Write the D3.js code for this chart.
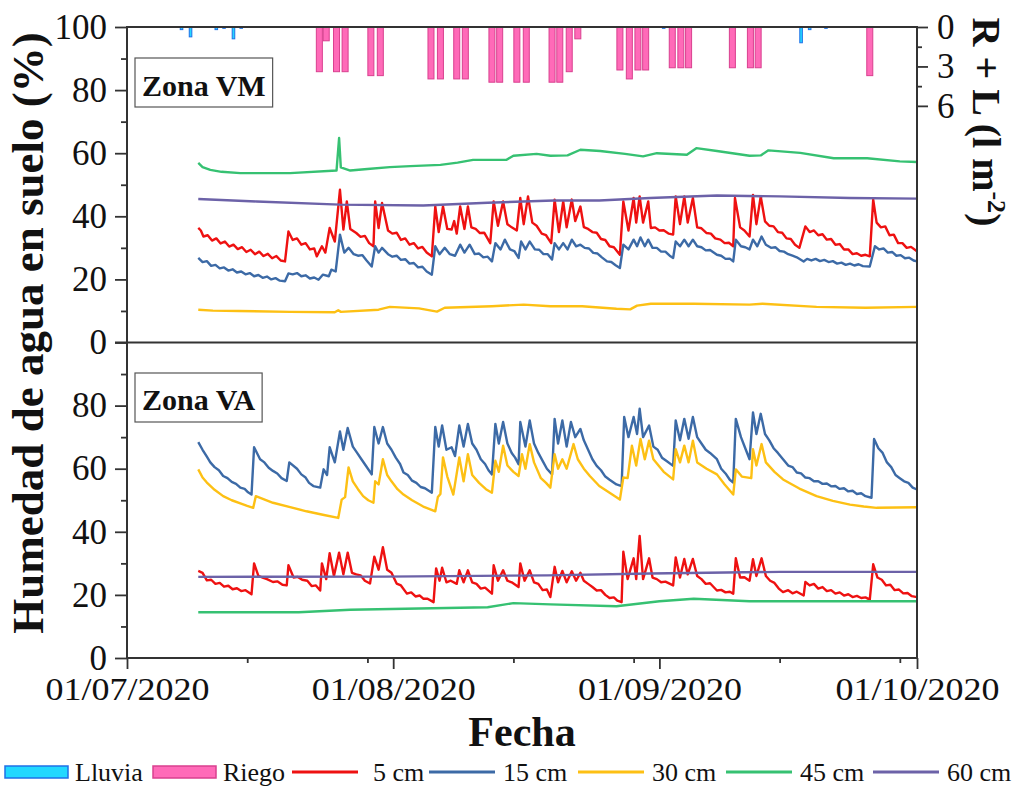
<!DOCTYPE html>
<html>
<head>
<meta charset="utf-8">
<script src="https://cdnjs.cloudflare.com/ajax/libs/d3/7.8.5/d3.min.js"></script>
<style>
  body { margin: 0; background: #fff; }
  svg text { font-family: "Liberation Serif", "Times New Roman", serif; fill: #111; }
</style>
</head>
<body>
<div id="chart"></div>
<script>
// Datos: dias desde 01/07/2020 y valores
var fechasEje = ["2020-07-01", "2020-08-01", "2020-09-01", "2020-10-01"];
var fechasMenores = ["2020-07-15", "2020-07-29", "2020-08-15", "2020-08-29", "2020-09-15", "2020-09-29"];
var ticksHumedadVM = [0, 20, 40, 60, 80, 100];
var ticksHumedadVA = [0, 20, 40, 60, 80];
var ticksMenores = [10, 30, 50, 70, 90];
var ticksRL = [0, 3, 6];
var ticksRLmenores = [1.5, 4.5];

// Riego y lluvia (l m-2)
var riego = [[22.4,3.4],[23.2,1.05],[24.4,3.4],[25.4,3.4],[28.4,3.7],[29.5,3.7],[35.4,3.95],[36.5,3.95],
  [38.4,3.95],[39.4,3.95],[42.5,4.2],[43.4,4.2],[45.4,4.2],[46.5,4.2],[49.5,4.2],[50.4,4.2],[51.5,3.4],
  [52.5,0.9],[57.4,3.27],[58.5,3.95],[59.5,3.27],[60.4,3.27],[63.5,3.1],[64.5,3.1],[65.4,3.1],[70.5,3.1],
  [72.6,3.1],[73.5,3.1],[86.5,3.7]];
var lluvia = [[6.35,0.2],[7.4,0.75],[10.4,0.2],[11.3,0.1],[12.4,0.9],[13.3,0.1],[62.5,0.1],[78.5,1.2],[79.5,0.2],[81.4,0.1]];

// Zona VM
var vm5 = [[8.3,36.3],[8.6,35.5],[8.9,33.6],[9.4,34],[9.9,32.3],[10.4,33],[10.9,31.4],[11.4,32],[11.9,30.4],[12.4,31],
  [12.9,29.6],[13.4,30.2],[13.9,28.7],[14.4,29.4],[14.9,28],[15.4,28.8],[15.9,27.4],[16.4,28.1],[16.9,26.7],[17.4,27.4],
  [17.9,26],[18.4,25.7],[18.8,35.2],[19.3,32.5],[19.8,33],[20.3,31],[20.8,31.5],[21.3,29.5],[21.8,29.8],[22.1,27.3],
  [22.7,30.5],[23.1,28.5],[23.6,36.3],[24.2,32],[24.8,48.4],[25.2,35.8],
  [25.6,44.7],[26,36],[26.7,34.7],[27.2,33.5],[27.7,33.8],[28.2,31.5],[28.7,30.5],[28.9,44.7],[29.3,36.3],[29.7,44.2],
  [30.4,35.5],[30.9,34.5],[31.4,34.8],[31.9,32.5],[32.4,33],[32.9,31],[33.4,31.5],[33.9,29.8],[34.4,30.3],[34.9,28.5],
  [35.5,27.3],[35.9,43.1],[36.3,35],[36.8,43.1],[37.3,36],[37.8,35.8],[38.1,38.5],[38.4,34.5],[38.8,43.1],
  [39.3,36],[39.7,43.1],[40.1,36.5],[40.6,36],[41.1,34.7],[41.6,34.8],[42.3,31.5],[42.7,44.7],[43.2,37],[43.8,44.7],
  [44.3,37.5],[44.8,36.5],[45.4,35.5],[45.8,45.8],[46.2,37.5],[46.7,46.3],[47.2,38],[47.7,37],[48.3,34.5],[48.8,34],
  [49.4,31.5],[49.8,45.3],[50.3,35],[50.8,44.7],[51.2,36.5],
  [51.8,45.3],[52.2,38.5],[52.8,43.1],[53.2,36.6],[53.7,36],[54.2,35],[54.7,34.8],[55.2,32.8],[55.7,32.5],[56.2,30.5],
  [56.7,30.2],[57.4,27.8],[57.8,44.7],[58.4,35.5],[59,45.8],
  [59.3,38],[59.7,46.3],[60.1,38],[60.7,44.7],[61,36.3],[61.5,36.5],[62,35.5],[62.5,35.6],[63.1,34.5],[63.6,34.2],
  [63.9,46.3],[64.4,37.5],[64.9,46.3],[65.3,38],[65.9,45.8],[66.4,36.5],[66.9,36.2],[67.5,34.7],[68,34.5],[68.5,33],
  [69.1,32.6],[69.6,31.5],[70.1,31.6],[70.6,30.5],[70.8,45.8],[71.4,36.5],[71.9,35.5],[72.5,33.6],[72.9,46.8],
  [73.3,37.5],[73.8,46.3],[74.3,38.4],[74.8,37],[75.3,36.8],[75.8,35],[76.3,34.8],[76.8,33],[77.3,32.8],[77.8,31],
  [78.3,30],[79,36.8],[79.5,35],[80,35.5],[80.5,34],[81,34.3],[81.5,32.6],[82,32.8],[82.5,31],[83,31.2],[83.5,29.5],
  [84,29.5],[84.5,28],[85,28.3],[85.5,27.5],[86,27.8],[86.5,27.3],[86.9,45.3],[87.3,38],[87.8,36.5],[88.3,36.8],
  [88.8,34],[89.3,34.2],[89.8,31.5],[90.3,31.5],[90.8,30],[91.3,30.3],[92,28.9]];
var vm15 = [[8.3,26.8],[8.8,25.5],[9.3,25.8],[9.8,24.3],[10.3,24.6],[10.8,23.5],[11.3,23.8],[11.8,22.8],[12.3,23.2],
  [12.8,22.2],[13.3,22.5],[13.8,21.6],[14.3,22],[14.8,21],[15.3,21.4],[15.8,20.5],[16.3,20.9],[16.8,20],[17.3,20.4],
  [17.8,19.6],[18.4,19.4],[18.8,21.9],[19.3,21.6],[19.8,22],[20.3,21],[20.8,21.3],[21.3,20.3],[21.8,20.6],[22.3,19.9],
  [22.8,21.5],[23.5,21],[23.8,23.1],[24.3,22.5],[24.8,34.2],[25.3,28.5],[25.8,30],[26.4,28],[26.9,27.5],[27.4,27.7],
  [27.9,26],[28.5,24.1],[28.9,30.5],[29.3,28.5],[29.7,30],[30.4,28],[30.9,27.2],[31.4,27.5],[31.9,26.2],[32.4,26.4],
  [32.9,25],[33.4,25.2],[33.9,23.8],[34.4,24],[34.9,22.5],[35.5,21.5],[35.9,30.5],[36.4,28],[37,30],[37.6,28],[38.2,27.5],
  [38.8,31],[39.3,28.5],[39.9,31],[40.5,28],[41,28.2],[41.5,27],[42,27.2],
  [42.5,25.7],[42.9,31.5],[43.5,29.5],[44,32.6],[44.6,29.5],[45.1,29],[45.6,26.8],[45.9,32],[46.4,29.5],[46.9,32],
  [47.5,29.5],[48,29.4],[48.5,28],[49,28],[49.5,26.3],[49.8,31.5],[50.3,29.5],[50.8,31.5],[51.3,29.5],[51.8,32.6],
  [52.3,30.5],[52.8,31],[53.3,30],[53.8,29.8],[54.3,28.4],[54.8,28.2],[55.3,27],[55.9,25.7],[56.4,25.5],[56.9,24.5],
  [57.4,23.6],[57.8,31],[58.4,29.5],[59,32.6],[59.4,30.5],[59.8,33.3],[60.3,30.5],[60.7,32.6],[61.2,30],[61.7,30],
  [62.2,28.8],[62.7,28.8],[63.2,27.5],[63.6,26.8],[63.9,32],[64.4,30.5],[64.9,32.6],[65.4,30.5],[65.9,32.6],
  [66.4,30.5],[66.9,30.2],[67.4,29.2],[67.9,29.3],[68.7,27.8],[69.2,27.5],[69.7,26.5],[70.2,26.6],[70.6,25.7],
  [70.9,32.6],[71.5,30.5],[72,30.2],[72.5,29.5],[72.9,32.6],[73.4,30.5],[73.9,33.6],[74.4,31],[75,30],[75.5,30.2],
  [76,29],[76.5,28.8],[77,28],[77.5,27.5],[78,27],[78.8,25.7],[79.2,26.5],[79.7,26],[80.2,26.5],[80.7,25.8],[81.2,26.2],
  [81.7,25.5],[82.2,25.8],[82.7,25],[83.2,25.3],[83.7,24.6],[84.2,25],[84.7,24.4],[85.2,24.8],[85.7,24.2],[86.5,24.1],
  [87.1,30.5],[87.6,29.5],[88.1,29.8],[88.6,28.5],[89.1,28.7],[89.6,27.5],[90.1,27.7],[90.6,26.7],[91.1,26.9],
  [91.6,26],[92,25.7]];
var vm30 = [[8.3,10.4],[10,10.1],[13,10],[19,9.7],[24.2,9.6],[24.6,10.2],[24.9,9.7],[29.3,10.4],[30.6,11.3],[34,10.8],
  [36.1,9.8],[37,11],[42.5,11.5],[46.2,12],[49.3,11.5],[53,11.5],[57,10.7],[58.6,10.5],[59.4,11.7],[61,12.3],
  [66,12.3],[72.5,12],[74,12.3],[80.3,11.3],[86,11],[92,11.3]];
var vm45 = [[8.3,56.9],[8.8,55.6],[9.7,54.7],[11,54.1],[13.2,53.7],[19,53.7],[24.4,54.5],[24.7,64.8],[24.9,55.5],
  [26,54.5],[28,55],[30.6,55.6],[33,55.9],[36.5,56.3],[38.5,57],[40.3,57.9],[44.2,57.9],[45,59.2],[47.7,59.8],
  [49.3,59.2],[51.3,59.3],[52.8,61.1],[55.1,60.7],[58,59.8],[60.1,59],[61.7,60],[65.2,59.5],[66.3,61.6],[68.7,60.7],
  [72.5,59.2],[73.8,59.3],[74.7,60.9],[78.4,60.1],[82.3,58.4],[86.2,58.4],[90,57.4],[92,57.2]];
var vm60 = [[8.3,45.5],[15.1,44.7],[24.8,43.7],[34.5,43.4],[42,44.3],[49.7,45],[55,45],[60.9,45.8],[68.7,46.6],
  [76,46.3],[84.2,45.8],[92,45.6]];

// Zona VA
var va5 = [[8.3,27.6],[8.8,27],[9.3,24.6],[9.8,24.8],[10.3,23.5],[10.8,23.8],[11.3,22.6],[11.8,22.9],[12.3,21.8],
  [12.8,22.1],[13.3,21.2],[13.8,21.5],[14.5,20.2],[14.8,30],[15.3,26],[15.8,25.5],[16.3,25],[17,24.1],[17.5,24.3],
  [18.1,23.2],[18.6,23],[18.8,29.4],[19.4,25.5],[19.9,25.7],[20.4,24.8],[21,24.5],[21.5,22.8],[22,23],[22.5,21.4],
  [22.7,30],[23.2,25],[23.6,33.2],[24.1,26],[24.7,33.4],[25.2,26.5],
  [25.7,33.4],[26.2,27],[26.7,26.5],[27.2,26.2],[27.7,24.5],[28.3,23.6],[28.8,32.1],[29.3,28],[29.8,35.1],[30.3,28],
  [30.8,27],[31.4,23.6],[31.9,23],[32.6,20.4],[33.1,20.8],[33.6,19.5],[34.1,19.8],[34.5,18.8],[35,18.8],[35.7,17.7],
  [36,28.4],[36.4,24.5],[36.7,28.6],[37.2,24],[37.7,24.5],[38.4,23.5],[38.7,27.8],[39.2,24],[39.7,27.8],[40.2,24],
  [40.7,23.5],[41.2,22],[41.7,22.3],[42.5,20.4],[42.7,29.4],[43.2,24.5],[43.8,27.8],[44.3,24.5],[44.8,24],[45.6,22.5],
  [45.8,30],[46.3,24.5],[46.9,27.8],[47.4,24],[47.9,23.5],[48.4,21.5],[48.9,21.7],
  [49.3,19.3],[49.8,28.9],[50.2,24],[50.7,27.6],[51.2,24],[51.8,27.5],[52.3,24.5],[52.8,27],[53.2,24.5],[53.7,23.5],
  [54.2,22.5],[54.7,21.4],[55.2,21.5],[55.7,20],[56.2,19],[56.7,19.2],[57.1,18.2],[57.6,17.7],[57.8,33.7],[58.3,25],
  [59,31.6],[59.3,25],[59.7,38.7],[60.1,25],[60.8,31.6],[61.2,25.5],[61.7,25],[62.2,24],[62.7,24.2],
  [63.6,23],[63.9,31.9],[64.4,25.5],[64.9,31.4],[65.3,26.5],[65.9,31.4],[66.4,26],[66.9,25],[67.4,23.5],[67.9,23.7],
  [68.7,21.4],[69.2,21.6],[69.7,20.8],[70.2,21],[70.6,20.4],[70.9,31.6],
  [71.4,25.5],[71.9,25.6],[72.5,24.5],[72.9,31.3],[73.3,26],[73.9,31.6],[74.4,26],[74.9,24.5],[75.4,23.8],[75.9,22],
  [76.4,20.9],[77,21.5],[77.5,20.5],[78,21],[78.8,19.8],[79,24.1],[79.5,23],[80,23.5],[80.5,22],[81,22.5],[81.5,21.2],
  [82,21.5],[82.5,20.4],[83,20.8],[83.5,19.8],[84,20.2],[84.5,19.3],[85,19.7],[85.5,19],[86,19.2],[86.5,18.5],
  [86.9,29.7],[87.4,25.5],[87.9,24.8],[88.4,23],[88.9,23.2],[89.4,21.5],[89.9,21.7],[90.4,20.5],[90.9,20.6],
  [91.4,19.6],[92,19.3]];
var va15 = [[8.3,68.4],[8.8,66],[9.3,63.8],[9.7,62],[10.2,60.5],[10.7,59.5],[11.2,57.7],[11.7,57],[12.2,55.8],
  [12.7,55.2],[13.2,54],[13.7,53.6],[14.1,52.5],[14.5,51.8],[14.8,66.8],[15.5,63],[16,62],[16.5,60.3],[17,59.3],
  [17.5,58.5],[18,57],[18.6,56.1],[18.9,62],[19.8,60],[20.3,58.2],[20.8,57.2],[21.2,55.5],
  [21.7,54.5],[22.5,54],[22.9,59.8],[23.3,58],[23.6,66.8],[24.2,62],[24.8,71.8],[25.2,66],[25.7,72.9],[26.3,67],
  [26.8,65],[27.3,63],[27.8,61],[28.5,58.2],[28.8,73.2],[29.3,68],[29.8,73.2],[30.3,68],[30.8,66],[31.3,63.5],
  [31.8,61.5],[32.2,58.8],[32.7,58],[33.2,56.2],[33.7,55.5],[34.2,54.2],[34.7,53.8],[35.5,52.4],[35.9,73.2],[36.3,67],
  [36.7,73.7],[37.2,66],[37.8,66.8],[38.2,64],[38.7,73.7],[39.2,67],[39.7,74.2],[40.2,68],[40.7,66],[41.2,63],
  [41.7,61.5],[42.1,59.5],[42.5,58.2],[42.9,74.2],[43.3,68],
  [43.8,74.8],[44.3,68],[44.8,65],[45.2,63.5],[45.6,61.4],[45.8,74.8],[46.4,67],[46.9,75.3],[47.4,68],[47.9,65],
  [48.4,62.5],[48.9,60],[49.5,58.2],[49.8,75.8],[50.2,68],
  [50.7,75.3],[51.2,67],[51.7,74.8],[52.2,70],[52.8,72.6],[53.2,69],[53.7,66],[54.2,63],[54.7,60.9],[55.2,59.5],
  [55.7,57.5],[56.2,56.5],[57,55],[57.6,54.5],[57.9,76.4],
  [58.4,70],[59,76.4],[59.4,71],[59.7,79],[60.1,70],[60.8,73.7],[61.3,67],[61.8,66],[62.3,63.5],[62.8,62.5],
  [63.6,60.9],[63.9,75.3],[64.4,69],[64.9,75.8],
  [65.4,69.5],[65.9,76.4],[66.4,70],[66.9,68],[67.4,66],[67.9,65],[68.7,63],[69.2,60],[69.7,58.5],[70.2,56.5],
  [70.6,55.6],[70.9,75.8],[71.5,70],[72,66.5],[72.5,63],[72.9,77.8],[73.3,71],
  [73.8,77.4],[74.3,71],[74.8,69],[75.3,66.5],[75.8,65],[76.4,63],[77,61],[77.5,60.5],[78,58.8],[78.5,58.5],[79,57.2],
  [79.5,57],[80,56],[80.5,56],[81,55.2],[81.5,55.3],[82,54.4],[82.5,54.5],[83,53.6],[83.5,53.8],[84,52.8],[84.5,53],
  [85,52],[85.5,52.2],[86,51.3],[86.7,50.8],[87,69.4],[87.5,66.5],[88,65],[88.5,62],[89,60.5],[89.5,58],[90,57],
  [90.5,56],[91,55.5],[91.5,54],[92,53.4]];
var va30 = [[8.3,59.8],[8.8,57.2],[9.3,55.6],[10.2,53.3],[11.2,51.3],[12.2,50],[13.2,49],[14,48.2],[14.7,47.6],
  [15,51.3],[17,49.2],[19,47.8],[20.9,46.5],[22.8,45.4],[24.6,44.4],
  [25,50.2],[25.4,51],[25.8,60.4],[26.3,56],[26.9,53.5],[27.5,51.3],[28.1,50],[28.7,49.2],[28.9,56],[29.3,55],[29.8,63],
  [30.3,58],[30.8,56],[31.5,53.5],[32.2,51.8],[33.2,50],[34.5,48],
  [35.9,46.5],[36.2,51],[36.5,52],[36.8,63.6],[37.3,57.5],[38,51.8],[38.7,63.6],[39.2,56],[39.7,64.6],[40.2,58],
  [41,55.5],[41.8,53.5],[42.5,52.4],[42.9,62.5],[43.3,59],[43.8,67.3],[44.3,61],[45,59],[45.6,57.7],[46,64.6],[46.4,60],
  [46.9,67.8],[47.4,62],[48.2,57],[48.8,55.5],[49.3,54],[49.8,64.6],[50.2,60],[50.7,63],[51.2,60],[52,67.8],[52.5,63],
  [53.2,60],[53.9,57.7],[55,54.5],[56.2,52.4],[57.4,50.2],
  [57.8,57.2],[58.3,57],[58.8,67.3],[59.3,61],[59.8,69.4],[60.3,63],[60.8,68.9],[61.3,63],[62.5,59],[63.6,56.6],
  [63.9,66.2],[64.4,62],[64.9,67.3],[65.4,62],[65.9,68.9],[66.4,62],[67.5,60],[68.7,58.2],[69.6,55],[70.6,51.8],
  [70.9,59.8],[71.6,57.5],[72.7,57],[72.9,66.2],[73.3,61],[73.9,67.8],[74.4,62],[75.4,59],[76.4,56.6],[78.3,53.7],
  [80.3,51.3],[82.2,49.8],[84.2,48.6],[85.8,48],[87.3,47.6],[92,47.8]];
var va45 = [[8.3,14.5],[20,14.5],[26,15.3],[42,16.1],[45,17.4],[49.3,17],[57,16.4],[62,18],[66,18.8],[72.5,18],[92,18]];
var va60 = [[8.3,25.7],[30,25.8],[49,26.2],[60.9,26.8],[76,27.3],[92,27.3]];

var profundidades = ["5 cm", "15 cm", "30 cm", "45 cm", "60 cm"];
var colores = ["#ee1111", "#3c6aa6", "#fdc014", "#36c172", "#6c62a8"];

// Configuracion del SVG
var svgWidth = 1013;
var svgHeight = 787;
var margin = { top: 27, right: 96, bottom: 129, left: 127 };
var width = svgWidth - margin.left - margin.right;
var height = svgHeight - margin.top - margin.bottom;
var panel = height / 2;
var fuente = "Liberation Serif";

var svg = d3.select("#chart")
  .append("svg")
  .attr("width", svgWidth)
  .attr("height", svgHeight)
  .attr("font-family", fuente);

var chartGroup = svg.append("g")
  .attr("transform", `translate(${margin.left}, ${margin.top})`);

// Escalas
var t0 = Date.UTC(2020, 6, 1);
var aFecha = d => new Date(t0 + d * 86400000);
var parseFecha = d3.utcParse("%Y-%m-%d");

var x = d3.scaleUtc()
  .domain([parseFecha(fechasEje[0]), parseFecha(fechasEje[3])])
  .range([0, width]);
var yVM = d3.scaleLinear().domain([0, 100]).range([panel, 0]);
var yVA = d3.scaleLinear().domain([0, 100]).range([height, panel]);
var yRL = d3.scaleLinear().domain([0, 24]).range([0, panel]);

// Barras de riego y lluvia colgando del borde superior
function barras(datos, ancho, relleno, borde) {
  chartGroup.append("g").selectAll("rect")
    .data(datos)
    .enter()
    .append("rect")
    .attr("x", d => x(aFecha(d[0] - ancho / 2)))
    .attr("width", d => x(aFecha(d[0] + ancho / 2)) - x(aFecha(d[0] - ancho / 2)))
    .attr("y", yRL(0))
    .attr("height", d => yRL(d[1]) - yRL(0))
    .attr("fill", relleno)
    .attr("stroke", borde)
    .attr("stroke-width", 1);
}
barras(riego, 0.7, "#ff6ab8", "#d9408f");
barras(lluvia, 0.3, "#22d8ff", "#1f70e8");

// Lineas de humedad
var linea = y => d3.line().x(d => x(aFecha(d[0]))).y(d => y(d[1]));
[vm5, vm15, vm30, vm45, vm60].forEach((serie, i) => {
  chartGroup.append("path").datum(serie)
    .attr("d", linea(yVM))
    .attr("fill", "none")
    .attr("stroke", colores[i])
    .attr("stroke-width", 2.4)
    .attr("stroke-linejoin", "round");
});
[va5, va15, va30, va45, va60].forEach((serie, i) => {
  chartGroup.append("path").datum(serie)
    .attr("d", linea(yVA))
    .attr("fill", "none")
    .attr("stroke", colores[i])
    .attr("stroke-width", 2.4)
    .attr("stroke-linejoin", "round");
});

// Ejes
function estiloEje(g, size) {
  g.attr("font-family", fuente);
  g.select(".domain").remove();
  g.selectAll("line").attr("stroke", "#333").attr("stroke-width", 1.8);
  g.selectAll("text")
    .style("font-family", fuente)
    .style("font-size", size)
    .attr("fill", "#111");
}

chartGroup.append("g")
  .call(d3.axisLeft(yVM).tickValues(ticksHumedadVM).tickSize(12).tickPadding(8))
  .call(g => estiloEje(g, "35px"));
chartGroup.append("g")
  .call(d3.axisLeft(yVM).tickValues(ticksMenores).tickSize(6).tickFormat(""))
  .call(g => estiloEje(g, "0px"));
chartGroup.append("g")
  .call(d3.axisLeft(yVA).tickValues(ticksHumedadVA).tickSize(12).tickPadding(8))
  .call(g => estiloEje(g, "35px"));
chartGroup.append("g")
  .call(d3.axisLeft(yVA).tickValues(ticksMenores).tickSize(6).tickFormat(""))
  .call(g => estiloEje(g, "0px"));

chartGroup.append("g")
  .attr("transform", `translate(${width}, 0)`)
  .call(d3.axisRight(yRL).tickValues(ticksRL).tickSize(11).tickPadding(9))
  .call(g => estiloEje(g, "35px"));
chartGroup.append("g")
  .attr("transform", `translate(${width}, 0)`)
  .call(d3.axisRight(yRL).tickValues(ticksRLmenores).tickSize(5).tickFormat(""))
  .call(g => estiloEje(g, "0px"));

chartGroup.append("g")
  .attr("transform", `translate(0, ${height})`)
  .call(d3.axisBottom(x).tickValues(fechasEje.map(parseFecha)).tickSize(11).tickPadding(8)
    .tickFormat(d3.utcFormat("%d/%m/%Y")))
  .call(g => estiloEje(g, "32px"))
  .call(g => g.selectAll("text").attr("textLength", 164).attr("lengthAdjust", "spacingAndGlyphs"));
chartGroup.append("g")
  .attr("transform", `translate(0, ${height})`)
  .call(d3.axisBottom(x).tickValues(fechasMenores.map(parseFecha)).tickSize(5).tickFormat(""))
  .call(g => estiloEje(g, "0px"));

// Marco y separador de paneles
chartGroup.append("rect")
  .attr("width", width)
  .attr("height", height)
  .attr("fill", "none")
  .attr("stroke", "#333")
  .attr("stroke-width", 2);
chartGroup.append("line")
  .attr("x1", -12).attr("x2", width)
  .attr("y1", panel).attr("y2", panel)
  .attr("stroke", "#333")
  .attr("stroke-width", 2);

// Etiquetas de zona
[["Zona VM", 31, 81], ["Zona VA", 346, 395]].forEach(z => {
  var g = chartGroup.append("g");
  var t = g.append("text")
    .attr("x", 15)
    .attr("y", z[2] - 12)
    .attr("font-weight", "bold")
    .style("font-size", "30px")
    .text(z[0]);
  var w = t.node().getComputedTextLength();
  g.insert("rect", "text")
    .attr("x", 8).attr("y", z[1])
    .attr("width", w + 14).attr("height", 49)
    .attr("fill", "#fff")
    .attr("stroke", "#555")
    .attr("stroke-width", 1.2);
});

// Titulos de ejes
svg.append("text")
  .attr("transform", "translate(43, 333) rotate(-90)")
  .attr("text-anchor", "middle")
  .attr("font-weight", "bold")
  .style("font-size", "45px")
  .text("Humedad de agua en suelo (%)");

var tituloRL = svg.append("text")
  .attr("transform", "translate(973, 122) rotate(90)")
  .attr("text-anchor", "middle")
  .attr("font-weight", "bold")
  .style("font-size", "40px");
tituloRL.append("tspan").text("R + L (l m");
tituloRL.append("tspan").attr("dy", -15).style("font-size", "26px").text("-2");
tituloRL.append("tspan").attr("dy", 15).text(")");

svg.append("text")
  .attr("x", 522)
  .attr("y", 746)
  .attr("text-anchor", "middle")
  .attr("font-weight", "bold")
  .style("font-size", "42px")
  .text("Fecha");

// Leyenda
var leyenda = [
  { nombre: "Lluvia", tipo: "barra", relleno: "#22d8ff", borde: "#1f70e8" },
  { nombre: "Riego", tipo: "barra", relleno: "#ff6ab8", borde: "#d9408f" }
].concat(profundidades.map((p, i) => ({ nombre: p, tipo: "linea", color: colores[i] })));
var leyendaX = [5, 153, 292, 429, 578, 726, 873];

var lg = svg.append("g").attr("transform", "translate(0, 772)");
leyenda.forEach((item, i) => {
  var x0 = leyendaX[i];
  if (item.tipo === "barra") {
    lg.append("rect")
      .attr("x", x0).attr("y", -6)
      .attr("width", 63).attr("height", 12)
      .attr("fill", item.relleno)
      .attr("stroke", item.borde)
      .attr("stroke-width", 1.5);
  } else {
    lg.append("line")
      .attr("x1", x0).attr("x2", x0 + 66)
      .attr("stroke", item.color)
      .attr("stroke-width", 3);
  }
  lg.append("text")
    .attr("x", x0 + (item.tipo === "barra" ? 70 : (item.nombre.length < 5 ? 81 : 74)))
    .attr("y", 9)
    .style("font-size", "26px")
    .text(item.nombre);
});
</script>
</body>
</html>
